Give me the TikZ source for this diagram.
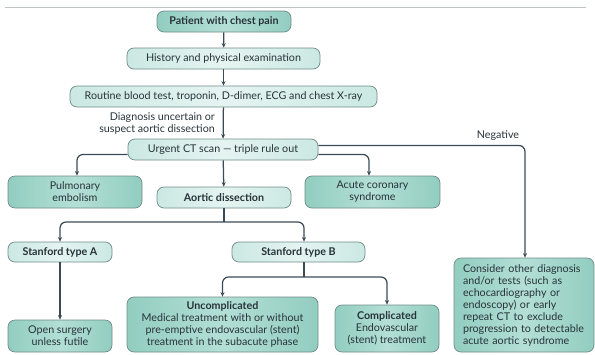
\documentclass[tikz,border=0pt]{standalone}
\usepackage{fontspec}
\setmainfont{Lato}
\usetikzlibrary{arrows.meta}
\definecolor{darkedge}{HTML}{92CDC0}
\definecolor{darkmid}{HTML}{B3DFD6}
\definecolor{lightedge}{HTML}{CBE8E2}
\definecolor{lightmid}{HTML}{E5F4F1}
\definecolor{boxline}{HTML}{6F8C88}
\definecolor{arrowcol}{HTML}{3B4B56}
\definecolor{txt}{HTML}{283339}
\definecolor{rulecol}{HTML}{BFC4C6}
\begin{document}
\begin{tikzpicture}[x=1pt,y=-1pt,
  font=\fontsize{10.7}{12}\selectfont, text=txt,
  boxbase/.style={draw=boxline, line width=0.7pt, rounded corners=7pt, inner sep=1pt, align=center},
  darkbox/.style={boxbase, left color=darkedge, right color=darkedge, middle color=darkmid},
  lightbox/.style={boxbase, left color=lightedge, right color=lightedge, middle color=lightmid},
  boldtext/.style={font=\fontsize{10.7}{12}\selectfont\bfseries},
  conn/.style={draw=arrowcol, line width=1.25pt, rounded corners=6pt, -{Stealth[length=4.5pt,width=4pt]}},
  plainconn/.style={draw=arrowcol, line width=1.25pt, rounded corners=6pt}]
\useasboundingbox (0,0) rectangle (595,354);
\draw[rulecol, line width=0.8pt] (5,7) -- (586,7);

\node[darkbox, minimum width=134pt, minimum height=21pt, boldtext] (patient) at (224,21.5) {Patient with chest pain};
\node[lightbox, minimum width=193pt, minimum height=21pt] (history) at (223.5,58.5) {History and physical examination};
\node[lightbox, minimum width=307pt, minimum height=21pt] (routine) at (223.5,96.5) {Routine blood test, troponin, D-dimer, ECG and chest X-ray};
\node[anchor=east, align=right, inner sep=0pt] (diag) at (215,123.5) {Diagnosis uncertain or\\suspect aortic dissection};
\node[lightbox, minimum width=190pt, minimum height=21pt] (ct) at (223,149.5) {Urgent CT scan --- triple rule out};
\node[darkbox, minimum width=134pt, minimum height=32pt] (pe) at (75,192) {Pulmonary\\embolism};
\node[lightbox, minimum width=134pt, minimum height=21pt, boldtext] (ad) at (224,197.5) {Aortic dissection};
\node[darkbox, minimum width=135pt, minimum height=32pt] (acs) at (372.5,192) {Acute coronary\\syndrome};
\node[lightbox, minimum width=104pt, minimum height=20pt, boldtext] (sa) at (60,252) {Stanford type A};
\node[lightbox, minimum width=133pt, minimum height=20pt, boldtext] (sb) at (298.5,252) {Stanford type B};
\node[darkbox, minimum width=104pt, minimum height=32pt] (open) at (60,336) {Open surgery\\unless futile};
\node[darkbox, minimum width=191pt, minimum height=55pt] (unc) at (222.5,324.5) {\textbf{Uncomplicated}\\Medical treatment with or without\\pre-emptive endovascular (stent)\\treatment in the subacute phase};
\node[darkbox, minimum width=104pt, minimum height=47pt] (comp) at (387,328.5) {\textbf{Complicated}\\Endovascular\\(stent) treatment};
\node[darkbox, minimum width=140pt, minimum height=94pt, align=left, text width=122pt] (cons) at (524,305) {Consider other diagnosis\\and/or tests (such as\\echocardiography or\\endoscopy) or early\\repeat CT to exclude\\progression to detectable\\acute aortic syndrome};
\node[inner sep=0pt] (neg) at (498,136) {Negative};

\draw[conn] (patient) -- (history);
\draw[conn] (history) -- (routine);
\draw[conn] (routine) -- (ct);
\draw[conn] ([yshift=-5pt]ct.west) -| ([xshift=2pt]pe.north);
\draw[conn] (ct) -- (ad);
\draw[conn] ([yshift=-5pt]ct.east) -| ([xshift=-3.5pt]acs.north);
\draw[conn] ([yshift=4pt]ct.east) -| ([xshift=1pt]cons.north);
\coordinate (adsplit) at (224,222);
\draw[plainconn] (ad.south) -- (adsplit);
\draw[conn] (adsplit) -| (sa.north);
\draw[conn] (adsplit) -| ([xshift=5.5pt]sb.north);
\draw[conn] (sa) -- (open);
\coordinate (sbsplit) at (304,277);
\draw[plainconn] ([xshift=5.5pt]sb.south) -- (sbsplit);
\draw[conn] (sbsplit) -| (unc.north);
\draw[conn] (sbsplit) -| (comp.north);
\end{tikzpicture}
\end{document}
